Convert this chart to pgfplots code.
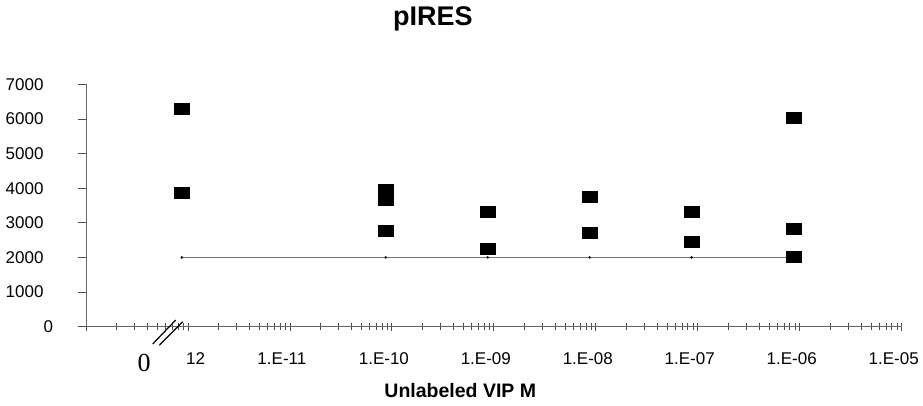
\documentclass[border=0pt]{standalone}
\usepackage{fontspec}
\setmainfont{Liberation Sans}
\newfontfamily\seriffont{Liberation Serif}
\usepackage{pgfplots}
\pgfplotsset{compat=1.18}
\begin{document}
\begin{tikzpicture}
\path[use as bounding box] (0,0) rectangle (923pt,405pt);
\begin{axis}[
    at={(86pt,78.3pt)}, anchor=south west,
    scale only axis, width=815.7pt, height=242.4pt,
    xmode=log, xmin=1e-13, xmax=1e-5,
    ymin=0, ymax=7000,
    axis x line=bottom, axis y line=left,
    axis line style={-, black!60, line width=0.9pt},
    xtick={1e-13,1e-12,1e-11,1e-10,1e-9,1e-8,1e-7,1e-6,1e-5},
    xticklabels={,{\phantom{1.E-}12},1.E-11,1.E-10,1.E-09,1.E-08,1.E-07,1.E-06,1.E-05},
    ytick={0,1000,2000,3000,4000,5000,6000,7000},
    yticklabels={{0\kern-10.6pt},1000,2000,3000,4000,5000,6000,7000},
    xtick align=center, ytick align=outside,
    major tick length=8pt, minor tick length=6.6pt,
    tick style={black!70, line width=0.8pt},
    xticklabel style={font=\fontsize{17}{17}\selectfont, anchor=base, inner sep=0pt, yshift=-33.3pt, xshift=-8pt},
    yticklabel style={font=\fontsize{17}{17}\selectfont, anchor=east, inner sep=0pt, xshift=-34.3pt},
    title={pIRES},
    title style={font=\fontsize{27}{27}\selectfont\bfseries, at={(rel axis cs:0.4254,1)}, anchor=base, inner sep=0pt, yshift=53.3pt},
    xlabel={Unlabeled VIP M},
    xlabel style={font=\fontsize{19.5}{19.5}\selectfont\bfseries, at={(rel axis cs:0.4589,0)}, anchor=base, inner sep=0pt, yshift=-70.7pt},
    clip=false,
]
\addplot[black!55, line width=0.9pt, mark=*, mark size=0.8pt, mark options={black}]
    coordinates {(8.7e-13,2000) (8.7e-11,2000) (8.7e-10,2000) (8.7e-9,2000) (8.7e-8,2000) (8.7e-7,2000)};
\addplot[only marks, mark=square*, mark size=5.5pt, mark options={xscale=1.36, black}]
    coordinates {
    (8.7e-13,6290) (8.7e-13,3875)
    (8.7e-11,3960) (8.7e-11,3670) (8.7e-11,2780)
    (8.7e-10,3310) (8.7e-10,2250)
    (8.7e-9,3760) (8.7e-9,2725)
    (8.7e-8,3320) (8.7e-8,2465)
    (8.7e-7,6040) (8.7e-7,2820) (8.7e-7,2030)
    };
\end{axis}
\draw[black, line width=1.2pt] (152.7pt,61pt) -- (175.7pt,85pt);
\draw[black, line width=1.2pt] (159.3pt,59.7pt) -- (182.7pt,83.3pt);
\node[font=\seriffont\fontsize{26}{26}\selectfont, inner sep=0pt] at (144pt,42.5pt) {0};
\end{tikzpicture}
\end{document}
